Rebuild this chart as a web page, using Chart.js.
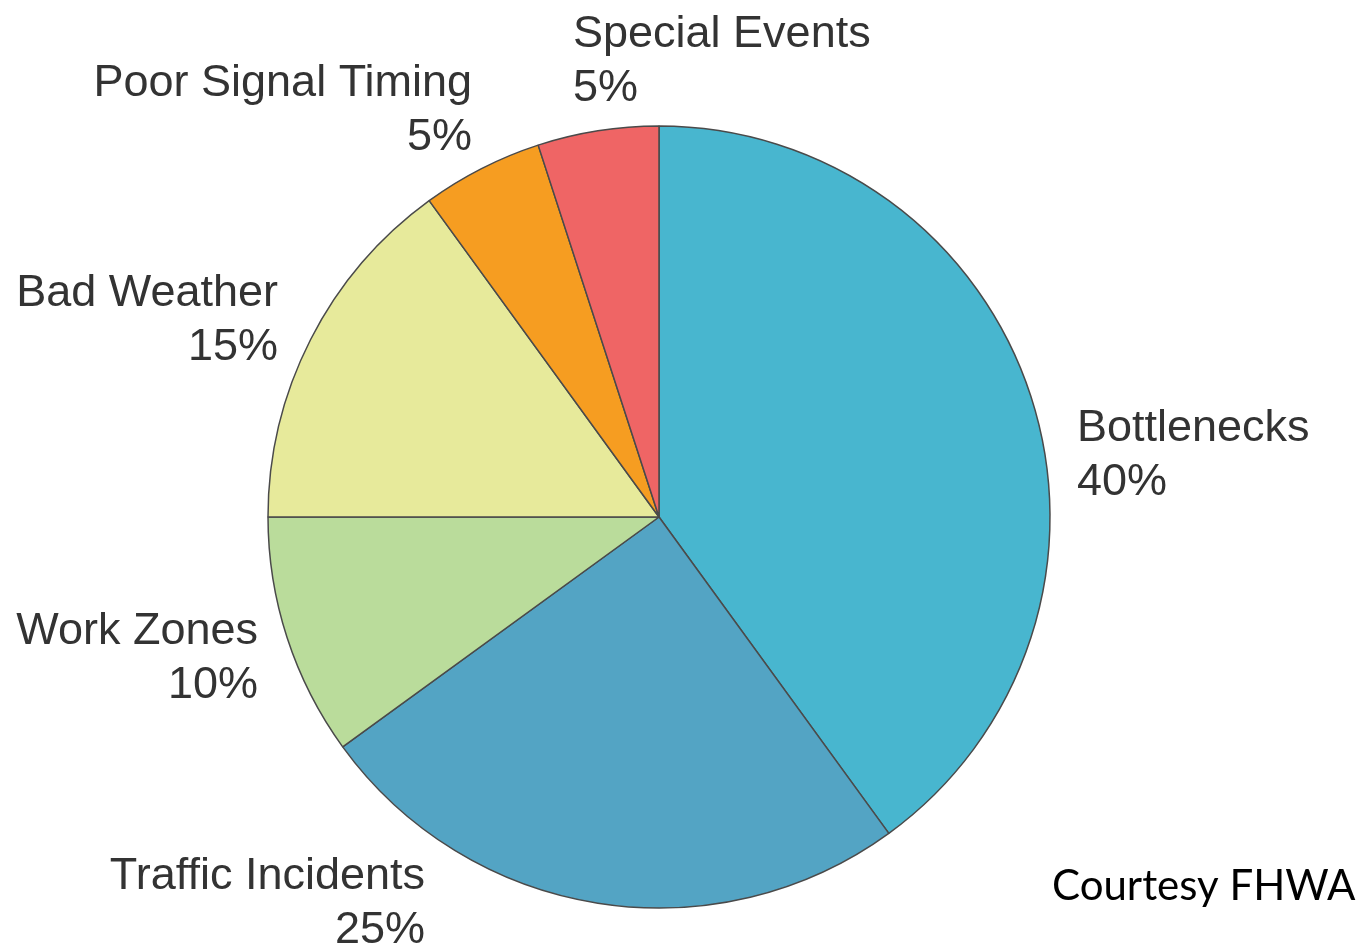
<!DOCTYPE html>
<html>
<head>
<meta charset="utf-8">
<script src="https://cdn.jsdelivr.net/npm/chart.js@4"></script>
<style>
  html, body { margin: 0; padding: 0; background: #fff; }
  #wrap { width: 1361px; height: 946px; position: relative; }
</style>
</head>
<body>
<div id="wrap"><canvas id="CongestionChart"></canvas></div>
<script>
// Sources of congestion (FHWA)
const causes = ['Bottlenecks', 'Traffic Incidents', 'Work Zones', 'Bad Weather', 'Poor Signal Timing', 'Special Events'];
const shares = [40, 25, 10, 15, 5, 5];
const sliceColors = ['#48b6cf', '#53a4c4', '#badc9b', '#e7ea9b', '#f69d21', '#ef6565'];

// where each label sits (text only, anchor + alignment)
const labelSpots = [
    { x: 1077, y: 429, align: 'left' },
    { x: 425, y: 877, align: 'right' },
    { x: 258, y: 632, align: 'right' },
    { x: 278, y: 294, align: 'right' },
    { x: 472, y: 84, align: 'right' },
    { x: 573, y: 35, align: 'left' }
];

const sliceLabels = {
    id: 'sliceLabels',
    afterDraw(chart) {
        const ctx = chart.ctx;
        ctx.save();
        ctx.fillStyle = '#333';
        ctx.font = '45px "Liberation Sans", Arial, sans-serif';
        ctx.textBaseline = 'middle';
        chart.data.labels.forEach(function (name, i) {
            const spot = labelSpots[i];
            ctx.textAlign = spot.align;
            ctx.fillText(name, spot.x, spot.y);
            ctx.fillText(chart.data.datasets[0].data[i] + '%', spot.x, spot.y + 54);
        });
        ctx.fillStyle = '#000';
        ctx.font = '42px Lato, "Open Sans", sans-serif';
        ctx.textAlign = 'left';
        ctx.fillText('Courtesy FHWA', 1052, 886);
        ctx.restore();
    }
};

document.addEventListener('DOMContentLoaded', function () {
    const ctx = document.getElementById('CongestionChart');
    new Chart(ctx, {
        type: 'pie',
        data: {
            labels: causes,
            datasets: [{
                data: shares,
                backgroundColor: sliceColors,
                borderColor: '#4a4a4a',
                borderWidth: 1.5
            }]
        },
        options: {
            responsive: true,
            maintainAspectRatio: false,
            animation: false,
            radius: 391,
            layout: { padding: { left: 0, right: 43, top: 88, bottom: 0 } },
            plugins: {
                legend: { display: false },
                tooltip: { enabled: false }
            }
        },
        plugins: [sliceLabels]
    });
});
</script>
</body>
</html>
